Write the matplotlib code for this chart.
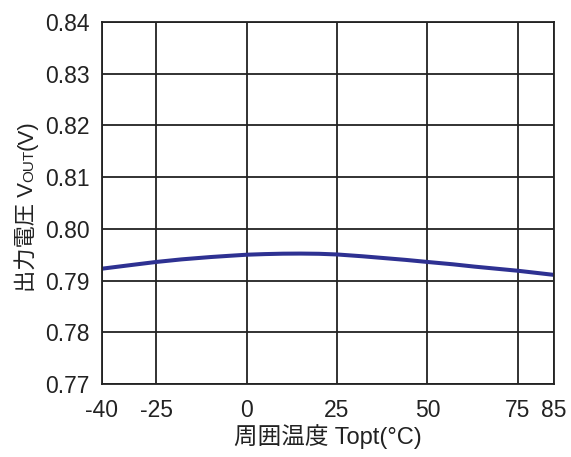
import matplotlib
matplotlib.use("Agg")
import matplotlib.pyplot as plt
from matplotlib.transforms import offset_copy

# Output voltage vs ambient temperature
temp_c = [-40, -32, -25, -18, -10, -5, 0, 5, 10, 15, 20, 25, 32, 38, 44,
          50, 57, 63, 69, 75, 80, 85]
vout_v = [0.7923, 0.7930, 0.7936, 0.7941, 0.79455, 0.79478, 0.7950,
          0.79512, 0.7952, 0.79522, 0.79518, 0.79505, 0.7947, 0.79435,
          0.7940, 0.7936, 0.79315, 0.7927, 0.7923, 0.7919, 0.7915, 0.7911]

x_ticks = [-40, -25, 0, 25, 50, 75, 85]
y_ticks = [0.77, 0.78, 0.79, 0.80, 0.81, 0.82, 0.83, 0.84]

plt.rcParams['font.family'] = ['Liberation Sans', 'Noto Sans CJK JP', 'DejaVu Sans']
plt.rcParams['axes.unicode_minus'] = False

fig = plt.figure(figsize=(5.71, 4.57), dpi=100)
ax = fig.add_axes([0.1786, 0.1597, 0.7916, 0.7922])

ax.plot(temp_c, vout_v, color='#2e3192', linewidth=2.9,
        solid_capstyle='butt', solid_joinstyle='round')

ax.set_xlim(-40, 85)
ax.set_ylim(0.77, 0.84)
ax.set_xticks(x_ticks)
ax.set_xticklabels([str(t) for t in x_ticks])
ax.set_yticks(y_ticks)
ax.set_yticklabels([f'{v:.2f}' for v in y_ticks])
ax.tick_params(length=0, labelsize=16.5, colors='#222222')
ax.tick_params(axis='x', pad=11)
ax.tick_params(axis='y', pad=9)
ax.grid(True, color='#222222', linewidth=1.3)
for s in ax.spines.values():
    s.set_color('#222222')
    s.set_linewidth(1.3)

fig.text(328 / 571, 1 - 437 / 457, '周囲温度 Topt(°C)', fontsize=17,
         color='#222222', ha='center', va='center')

# y label built from pieces so "OUT" can be set smaller
fig.canvas.draw()
renderer = fig.canvas.get_renderer()
parts = [('出力電圧 V', 16), ('OUT', 11), ('(V)', 16)]
x0, y0 = 33 / 571, 1 - 292 / 457
trans = fig.transFigure
for txt, size in parts:
    t = fig.text(x0, y0, txt, fontsize=size, color='#222222', rotation=90,
                 ha='left', va='baseline', transform=trans,
                 rotation_mode='anchor')
    bb = t.get_window_extent(renderer)
    trans = offset_copy(trans, fig=fig, x=0, y=bb.height * 72 / fig.dpi, units='points')

fig.savefig('out.png', dpi=100)
